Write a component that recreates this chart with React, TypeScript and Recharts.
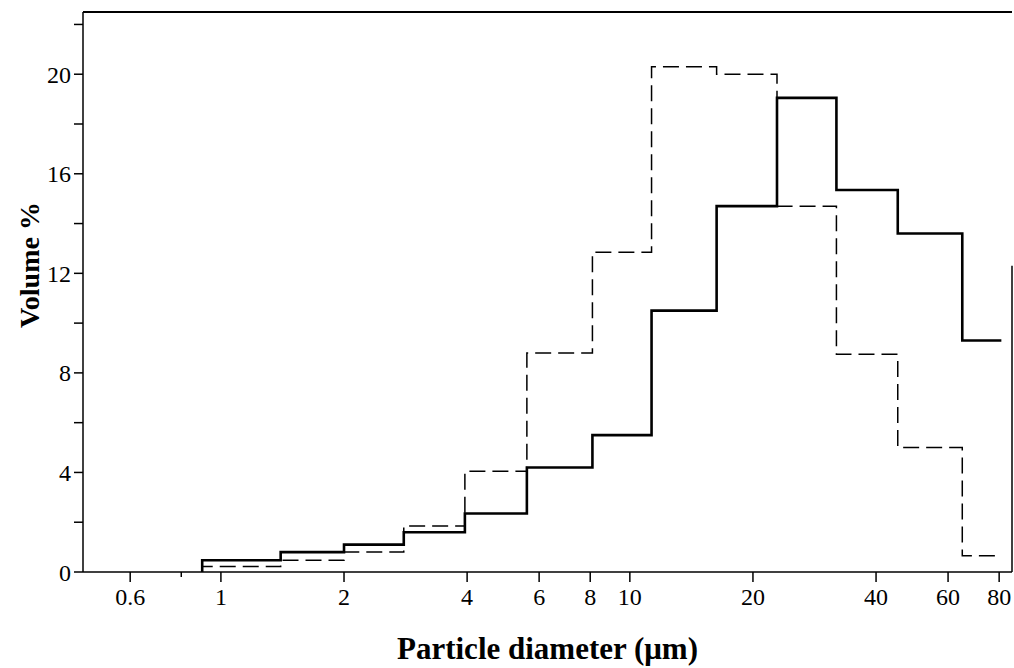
import React from 'react';
import { LineChart, Line, XAxis, YAxis, ReferenceLine } from 'recharts';

// Bin edges of particle diameter (µm), log-spaced
const binEdges = [0.9, 1.4, 2, 2.8, 3.95, 5.6, 8.1, 11.3, 16.3, 22.9, 32, 45.2, 65, 81];
// Volume % per bin
const solidValues = [0.47, 0.8, 1.1, 1.6, 2.35, 4.2, 5.5, 10.5, 14.7, 19.05, 15.35, 13.6, 9.3];
const dashedValues = [0.22, 0.47, 0.8, 1.85, 4.05, 8.8, 12.85, 20.3, 20.0, 14.7, 8.75, 5.0, 0.65];

const xTicks = [0.6, 0.8, 1, 2, 4, 6, 8, 10, 20, 40, 60, 80];
const xTickLabels = ['0.6', '', '1', '2', '4', '6', '8', '10', '20', '40', '60', '80'];
const yTicks = [0, 2, 4, 6, 8, 10, 12, 14, 16, 18, 20, 22];
const yTickLabels = ['0', '', '4', '', '8', '', '12', '', '16', '', '20', ''];

const xDomain = [0.46, 86];
const yDomain = [0, 22.5];

const buildSteps = (values: number[]) => {
  const pts = [{ x: binEdges[0], y: 0 }];
  values.forEach((v, i) => pts.push({ x: binEdges[i], y: v }));
  pts.push({ x: binEdges[values.length], y: values[values.length - 1] });
  return pts;
};

const solidData = buildSteps(solidValues);
const dashedData = buildSteps(dashedValues);

const FONT = '"Liberation Serif", "Times New Roman", serif';
const X_TICK_SIZE = 10;
const X_TICK_MARGIN = 6;

const XTick = (props: any) => {
  const { x, y, payload } = props;
  const idx = xTicks.indexOf(payload.value);
  const label = idx >= 0 ? xTickLabels[idx] : '';
  const axisY = y - X_TICK_MARGIN - X_TICK_SIZE;
  const len = label === '' ? 5 : X_TICK_SIZE;
  return (
    <g>
      <line x1={x} x2={x} y1={axisY} y2={axisY + len} stroke="#000" strokeWidth={1.5} />
      <text x={x} y={y} dy="0.71em" textAnchor="middle" fontFamily={FONT} fontSize={24} fill="#000">
        {label}
      </text>
    </g>
  );
};

const YLabel = (props: any) => {
  const vb = props.viewBox || { x: 0, y: 0, width: 0, height: 0 };
  const cx = vb.x + 29;
  const cy = vb.y + vb.height / 2 - 27;
  return (
    <text
      x={cx}
      y={cy}
      transform={`rotate(-90, ${cx}, ${cy})`}
      textAnchor="middle"
      dominantBaseline="central"
      fontFamily={FONT}
      fontWeight="bold"
      fontSize={28}
      fill="#000"
    >
      Volume %
    </text>
  );
};

export default function App() {
  return (
    <div style={{ position: 'absolute', left: 0, top: 0, width: 1014, height: 668, background: '#fff' }}>
      <LineChart width={1014} height={668} margin={{ top: 12, right: 2, left: 0, bottom: 0 }}>
        <XAxis
          dataKey="x"
          type="number"
          scale="log"
          domain={xDomain}
          allowDataOverflow
          ticks={xTicks}
          interval={0}
          height={96}
          tickSize={X_TICK_SIZE}
          tickMargin={X_TICK_MARGIN}
          tickLine={false}
          tick={<XTick />}
          axisLine={{ stroke: '#000', strokeWidth: 1.5 }}
          label={{
            value: 'Particle diameter (μm)',
            position: 'insideBottom',
            offset: 9,
            style: { fontFamily: FONT, fontWeight: 'bold', fontSize: 31, fill: '#000' },
          }}
        />
        <YAxis
          type="number"
          domain={yDomain}
          allowDataOverflow
          ticks={yTicks}
          interval={0}
          width={83}
          tickSize={9}
          tickMargin={3}
          tickFormatter={(v: number) => yTickLabels[yTicks.indexOf(v)] ?? ''}
          tick={{ fontFamily: FONT, fontSize: 24, fill: '#000' }}
          tickLine={{ stroke: '#000', strokeWidth: 1.5 }}
          axisLine={{ stroke: '#000', strokeWidth: 1.5 }}
          label={<YLabel />}
        />
        <ReferenceLine y={yDomain[1]} stroke="#000" strokeWidth={2} ifOverflow="extendDomain" />
        <ReferenceLine
          segment={[{ x: xDomain[1], y: 0 }, { x: xDomain[1], y: 12.3 }]}
          stroke="#000"
          strokeWidth={1.5}
          ifOverflow="visible"
        />
        <Line
          data={dashedData}
          dataKey="y"
          type="stepAfter"
          stroke="#000"
          strokeWidth={1.5}
          strokeDasharray="16 7"
          dot={false}
          activeDot={false}
          isAnimationActive={false}
        />
        <Line
          data={solidData}
          dataKey="y"
          type="stepAfter"
          stroke="#000"
          strokeWidth={2.6}
          dot={false}
          activeDot={false}
          isAnimationActive={false}
        />
      </LineChart>
    </div>
  );
}
